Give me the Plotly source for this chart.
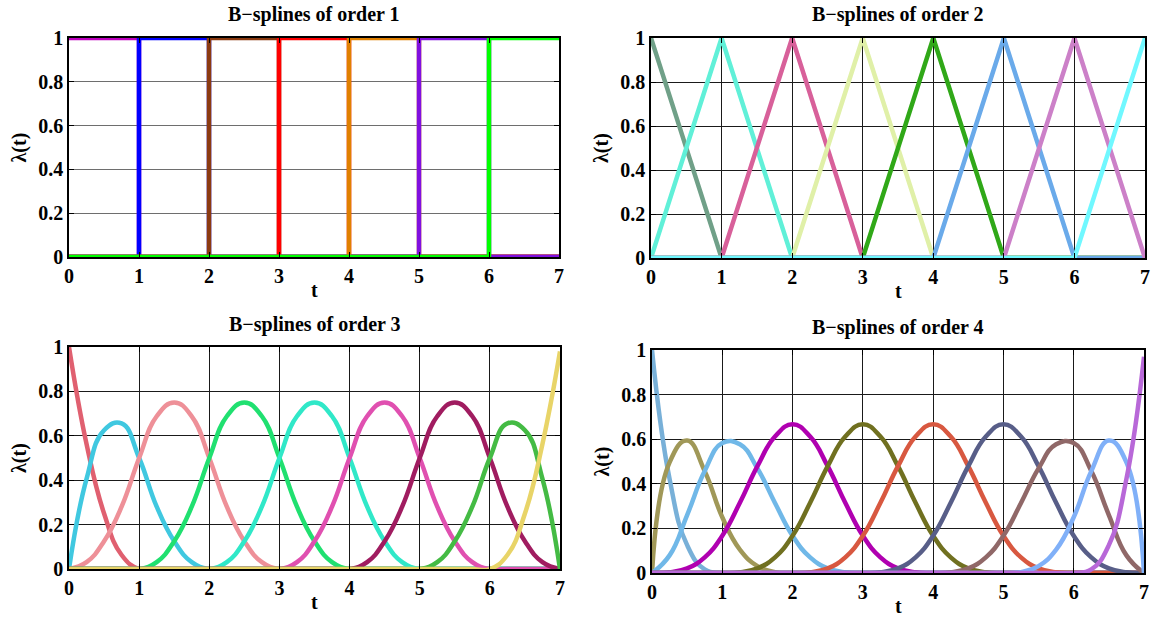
import plotly.graph_objects as go
from plotly.subplots import make_subplots

FONT = "Liberation Serif"

# knots (orders 1 and 2) and sample grid (orders 3 and 4)
T_KNOTS = [0, 1, 2, 3, 4, 5, 6, 7]
T_FINE = [0, 0.25, 0.5, 0.75, 1, 1.25, 1.5, 1.75, 2, 2.25, 2.5, 2.75, 3,
          3.25, 3.5, 3.75, 4, 4.25, 4.5, 4.75, 5, 5.25, 5.5, 5.75, 6,
          6.25, 6.5, 6.75, 7]

# order 1: value at each knot (drawn as steps)
ORDER1 = [
    [1, 0, 0, 0, 0, 0, 0, 0],
    [0, 1, 0, 0, 0, 0, 0, 0],
    [0, 0, 1, 0, 0, 0, 0, 0],
    [0, 0, 0, 1, 0, 0, 0, 0],
    [0, 0, 0, 0, 1, 0, 0, 0],
    [0, 0, 0, 0, 0, 1, 0, 0],
    [0, 0, 0, 0, 0, 0, 1, 1],
]
ORDER1_COLORS = ["#C000C0", "#0000FF", "#8B3A10", "#FF0000",
                 "#E08000", "#8010E0", "#00FF00"]

# order 2: hat functions, value at each knot
ORDER2 = [
    [1, 0, 0, 0, 0, 0, 0, 0],
    [0, 1, 0, 0, 0, 0, 0, 0],
    [0, 0, 1, 0, 0, 0, 0, 0],
    [0, 0, 0, 1, 0, 0, 0, 0],
    [0, 0, 0, 0, 1, 0, 0, 0],
    [0, 0, 0, 0, 0, 1, 0, 0],
    [0, 0, 0, 0, 0, 0, 1, 0],
    [0, 0, 0, 0, 0, 0, 0, 1],
]
ORDER2_COLORS = ["#70A088", "#60F0D8", "#D8609A", "#E0F0A8",
                 "#30A818", "#6AAAEA", "#CC80C8", "#70F8FF"]

# order 3: values on T_FINE (t=0, then 4 samples per unit interval)
ORDER3 = [
    [1, .563, .25, .063, 0, 0, 0, 0, 0, 0, 0, 0, 0, 0, 0, 0, 0,
     0, 0, 0, 0, 0, 0, 0, 0, 0, 0, 0, 0],
    [0, .406, .625, .656, .5, .281, .125, .031, 0, 0, 0, 0, 0, 0, 0, 0, 0,
     0, 0, 0, 0, 0, 0, 0, 0, 0, 0, 0, 0],
    [0, .031, .125, .281, .5, .688, .75, .688, .5, .281, .125, .031, 0,
     0, 0, 0, 0, 0, 0, 0, 0, 0, 0, 0, 0, 0, 0, 0, 0],
    [0, 0, 0, 0, 0, .031, .125, .281, .5, .688, .75, .688, .5, .281, .125, .031, 0,
     0, 0, 0, 0, 0, 0, 0, 0, 0, 0, 0, 0],
    [0, 0, 0, 0, 0, 0, 0, 0, 0, .031, .125, .281, .5, .688, .75, .688, .5,
     .281, .125, .031, 0, 0, 0, 0, 0, 0, 0, 0, 0],
    [0, 0, 0, 0, 0, 0, 0, 0, 0, 0, 0, 0, 0, .031, .125, .281, .5,
     .688, .75, .688, .5, .281, .125, .031, 0, 0, 0, 0, 0],
    [0, 0, 0, 0, 0, 0, 0, 0, 0, 0, 0, 0, 0, 0, 0, 0, 0,
     .031, .125, .281, .5, .688, .75, .688, .5, .281, .125, .031, 0],
    [0, 0, 0, 0, 0, 0, 0, 0, 0, 0, 0, 0, 0, 0, 0, 0, 0,
     0, 0, 0, 0, .031, .125, .281, .5, .656, .625, .406, 0],
    [0, 0, 0, 0, 0, 0, 0, 0, 0, 0, 0, 0, 0, 0, 0, 0, 0,
     0, 0, 0, 0, 0, 0, 0, 0, .063, .25, .563, .98],
]
ORDER3_COLORS = ["#E06070", "#40C8E0", "#EE9098", "#20E070", "#30E8C8",
                 "#E050B0", "#A01C60", "#44BB44", "#E8D468"]

# order 4: values on T_FINE
ORDER4 = [
    [1, .422, .125, .016, 0, 0, 0, 0, 0, 0, 0, 0, 0, 0, 0, 0, 0,
     0, 0, 0, 0, 0, 0, 0, 0, 0, 0, 0, 0],
    [0, .496, .594, .457, .25, .105, .031, .004, 0, 0, 0, 0, 0, 0, 0, 0, 0,
     0, 0, 0, 0, 0, 0, 0, 0, 0, 0, 0, 0],
    [0, .079, .26, .457, .583, .577, .469, .314, .167, .07, .021, .003, 0,
     0, 0, 0, 0, 0, 0, 0, 0, 0, 0, 0, 0, 0, 0, 0, 0],
    [0, .003, .021, .07, .167, .315, .479, .612, .667, .612, .479, .315, .167,
     .07, .021, .003, 0, 0, 0, 0, 0, 0, 0, 0, 0, 0, 0, 0, 0],
    [0, 0, 0, 0, 0, .003, .021, .07, .167, .315, .479, .612, .667,
     .612, .479, .315, .167, .07, .021, .003, 0, 0, 0, 0, 0, 0, 0, 0, 0],
    [0, 0, 0, 0, 0, 0, 0, 0, 0, .003, .021, .07, .167, .315, .479, .612, .667,
     .612, .479, .315, .167, .07, .021, .003, 0, 0, 0, 0, 0],
    [0, 0, 0, 0, 0, 0, 0, 0, 0, 0, 0, 0, 0, .003, .021, .07, .167,
     .315, .479, .612, .667, .612, .479, .315, .167, .07, .021, .003, 0],
    [0, 0, 0, 0, 0, 0, 0, 0, 0, 0, 0, 0, 0, 0, 0, 0, 0,
     .003, .021, .07, .167, .314, .469, .577, .583, .457, .26, .079, 0],
    [0, 0, 0, 0, 0, 0, 0, 0, 0, 0, 0, 0, 0, 0, 0, 0, 0,
     0, 0, 0, 0, .004, .031, .105, .25, .457, .594, .496, 0],
    [0, 0, 0, 0, 0, 0, 0, 0, 0, 0, 0, 0, 0, 0, 0, 0, 0,
     0, 0, 0, 0, 0, 0, 0, 0, .016, .125, .422, .97],
]
ORDER4_COLORS = ["#78B0D8", "#A09858", "#70B8E8", "#B000B0", "#707020",
                 "#D85840", "#585E88", "#906868", "#80B0F8", "#B868D8"]

PANELS = [
    (1, 1, "B\u2212splines of order 1", T_KNOTS, ORDER1, ORDER1_COLORS, "hv", "#6E6E6E"),
    (1, 2, "B\u2212splines of order 2", T_KNOTS, ORDER2, ORDER2_COLORS, "linear", "#1A1A1A"),
    (2, 1, "B\u2212splines of order 3", T_FINE, ORDER3, ORDER3_COLORS, "spline", "#1A1A1A"),
    (2, 2, "B\u2212splines of order 4", T_FINE, ORDER4, ORDER4_COLORS, "spline", "#1A1A1A"),
]

# pixel boxes of each plot area (left, right, top, bottom)
BOXES = {
    (1, 1): (69, 559, 38, 257),
    (1, 2): (651, 1145, 38, 258),
    (2, 1): (69, 560, 347, 569),
    (2, 2): (652, 1144, 350, 573),
}
W, H = 1152, 620


def px(x):
    return x / W


def py(y):
    return 1 - y / H


fig = make_subplots(rows=2, cols=2)

tick_font = dict(family=FONT, size=20, color="black", weight="bold")
label_font = dict(family=FONT, size=20, color="black", weight="bold")
annotations = []

for row, col, title, t, curves, colors, shape, gridcolor in PANELS:
    for y, c in zip(curves, colors):
        line = dict(color=c, width=4.5, shape=shape)
        if shape == "spline":
            line["smoothing"] = 1.3
        fig.add_trace(go.Scatter(x=t, y=y, mode="lines", line=line,
                                 cliponaxis=False, showlegend=False,
                                 hoverinfo="skip"),
                      row=row, col=col)

    l, r, top, bot = BOXES[(row, col)]
    axis_common = dict(
        showline=True, linecolor="black", linewidth=1.5, mirror="ticks",
        ticks="inside", ticklen=5, tickcolor="black", tickwidth=1,
        showgrid=True, gridcolor=gridcolor, gridwidth=1,
        zeroline=False, tickfont=tick_font, automargin=False,
    )
    fig.update_xaxes(range=[0, 7], dtick=1, tick0=0,
                     domain=[px(l), px(r)], **axis_common, row=row, col=col)
    fig.update_yaxes(range=[0, 1], dtick=0.2, tick0=0,
                     domain=[py(bot), py(top)], **axis_common,
                     row=row, col=col)

    cx = (l + r) / 2
    annotations.append(dict(text=title, x=px(cx), y=py(top - 23),
                            xref="paper", yref="paper", showarrow=False,
                            xanchor="center", yanchor="middle", font=label_font))
    annotations.append(dict(text="t", x=px(cx), y=py(bot + 33),
                            xref="paper", yref="paper", showarrow=False,
                            xanchor="center", yanchor="middle", font=label_font))
    annotations.append(dict(text="\u03bb(t)", x=px(l - 50), y=py((top + bot) / 2),
                            xref="paper", yref="paper", showarrow=False,
                            xanchor="center", yanchor="middle", textangle=-90,
                            font=label_font))

fig.update_layout(
    width=W, height=H,
    margin=dict(l=0, r=0, t=0, b=0),
    paper_bgcolor="white",
    plot_bgcolor="white",
    annotations=annotations,
)

# drop the default page margin so the figure fills the window exactly
fig.write_html("out.html", config={"displayModeBar": False},
               post_script="document.body.style.margin = '0px';")
